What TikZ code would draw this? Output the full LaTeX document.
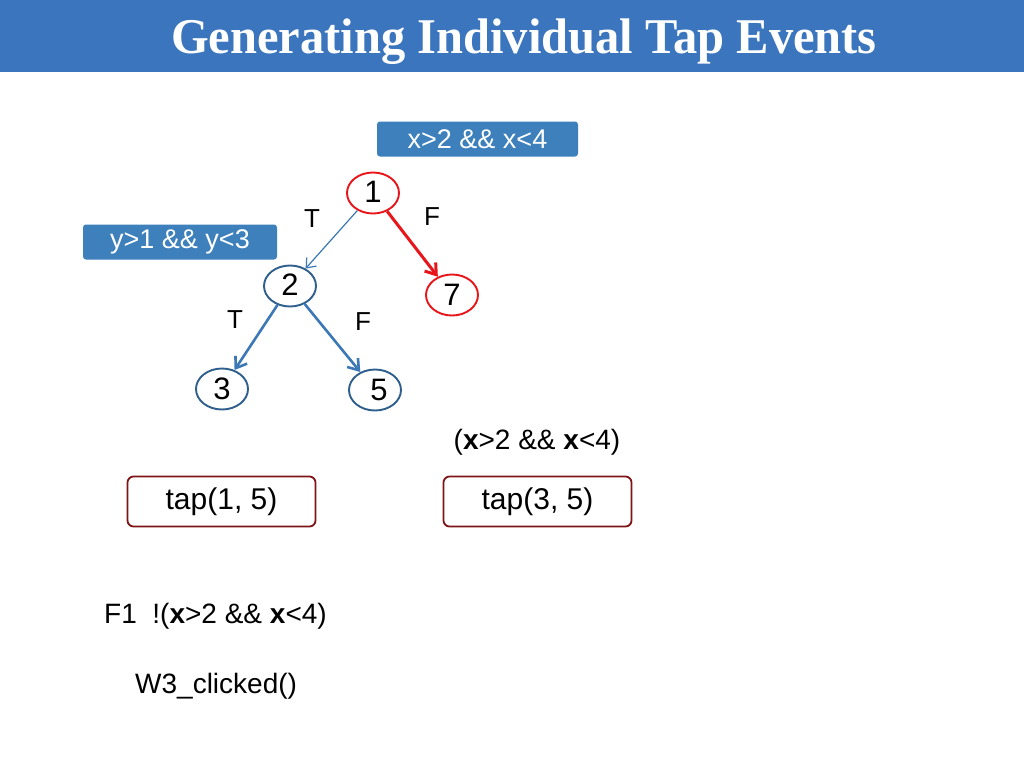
\documentclass[tikz,border=0pt]{standalone}
\usepackage{fontspec}
\setmainfont{Liberation Sans}
\newfontfamily\titlefont{Liberation Serif}
\usetikzlibrary{shapes.geometric,arrows.meta}
\definecolor{titleblue}{HTML}{3A75BD}
\definecolor{condblue}{HTML}{3D80BC}
\definecolor{nodeblue}{HTML}{2F5F8C}
\definecolor{edgeblue}{HTML}{3B78B5}
\definecolor{tapred}{HTML}{7E1416}
\definecolor{hotred}{HTML}{E8161B}
\tikzset{
  fs/.style={font=\fontsize{#1}{#1}\selectfont},
  cond/.style={fill=condblue, rounded corners=3pt, text=white, minimum width=#1, minimum height=35, inner sep=0pt, fs=27},
  cnode/.style={ellipse, draw=nodeblue, line width=1.9pt, minimum width=52, minimum height=41, inner sep=0pt, fs=31},
  rnode/.style={ellipse, draw=hotred, line width=1.9pt, minimum width=52, minimum height=41, inner sep=0pt, fs=31},
  tapbox/.style={draw=tapred, line width=1.8pt, rounded corners=6pt, minimum width=188, minimum height=50, inner sep=0pt, fs=30},
  lbl/.style={fs=26, inner sep=0pt},
  blueedge/.style={draw=edgeblue, line width=2.6pt, -{Straight Barb[length=10pt,width=14pt]}},
  thinedge/.style={draw=edgeblue, line width=1.2pt, -{Straight Barb[length=8pt,width=13pt]}},
  rededge/.style={draw=hotred, line width=3pt, -{Straight Barb[length=10pt,width=14pt]}},
  txt/.style={fs=28, inner sep=0pt, anchor=west}
}
\begin{document}
\begin{tikzpicture}[x=1pt,y=-1pt]
\useasboundingbox (0,0) rectangle (1024,768);
\fill[white] (0,0) rectangle (1024,768);
\fill[titleblue] (0,0) rectangle (1024,72);
\node[text=white, inner sep=0pt, anchor=base, xscale=0.97] (title) at (524,54) {\titlefont\bfseries\fontsize{50}{50}\selectfont Generating Individual Tap Events};

\node[cond=201] (c1) at (477.5,139) {x>2 \&\& x<4};
\node[cond=194] (c2) at (180,242) {y>1 \&\& y<3};

\node[rnode] (n1) at (373,193) {\raisebox{3pt}{1}};
\node[cnode] (n2) at (290,286) {\raisebox{2pt}{2}};
\node[rnode] (n7) at (452,295) {7};
\node[cnode] (n3) at (222,389) {3};
\node[cnode] (n5) at (375,390) {\raisebox{-4pt}{\hspace{8pt}5}};

\draw[thinedge] (n1) -- (n2);
\draw[rededge] (n1) -- (n7);
\draw[blueedge] (n2) -- (n3);
\draw[blueedge] (n2) -- (n5);

\node[lbl] (t1) at (312,219) {T};
\node[lbl] (f1) at (432,217) {F};
\node[lbl] (t2) at (235,320) {T};
\node[lbl] (f2) at (363,322) {F};

\node[fs=28, inner sep=0pt] (cx) at (537,442) {(\textbf{x}>2 \&\& \textbf{x}<4)};
\node[tapbox] (tap1) at (221.5,501.5) {tap(1, 5)};
\node[tapbox] (tap2) at (537.5,501.5) {tap(3, 5)};

\node[txt] (f1line) at (104,616) {F1\ \ !(\textbf{x}>2 \&\& \textbf{x}<4)};
\node[txt] (w3) at (135,686) {W3\_clicked()};
\end{tikzpicture}
\end{document}
